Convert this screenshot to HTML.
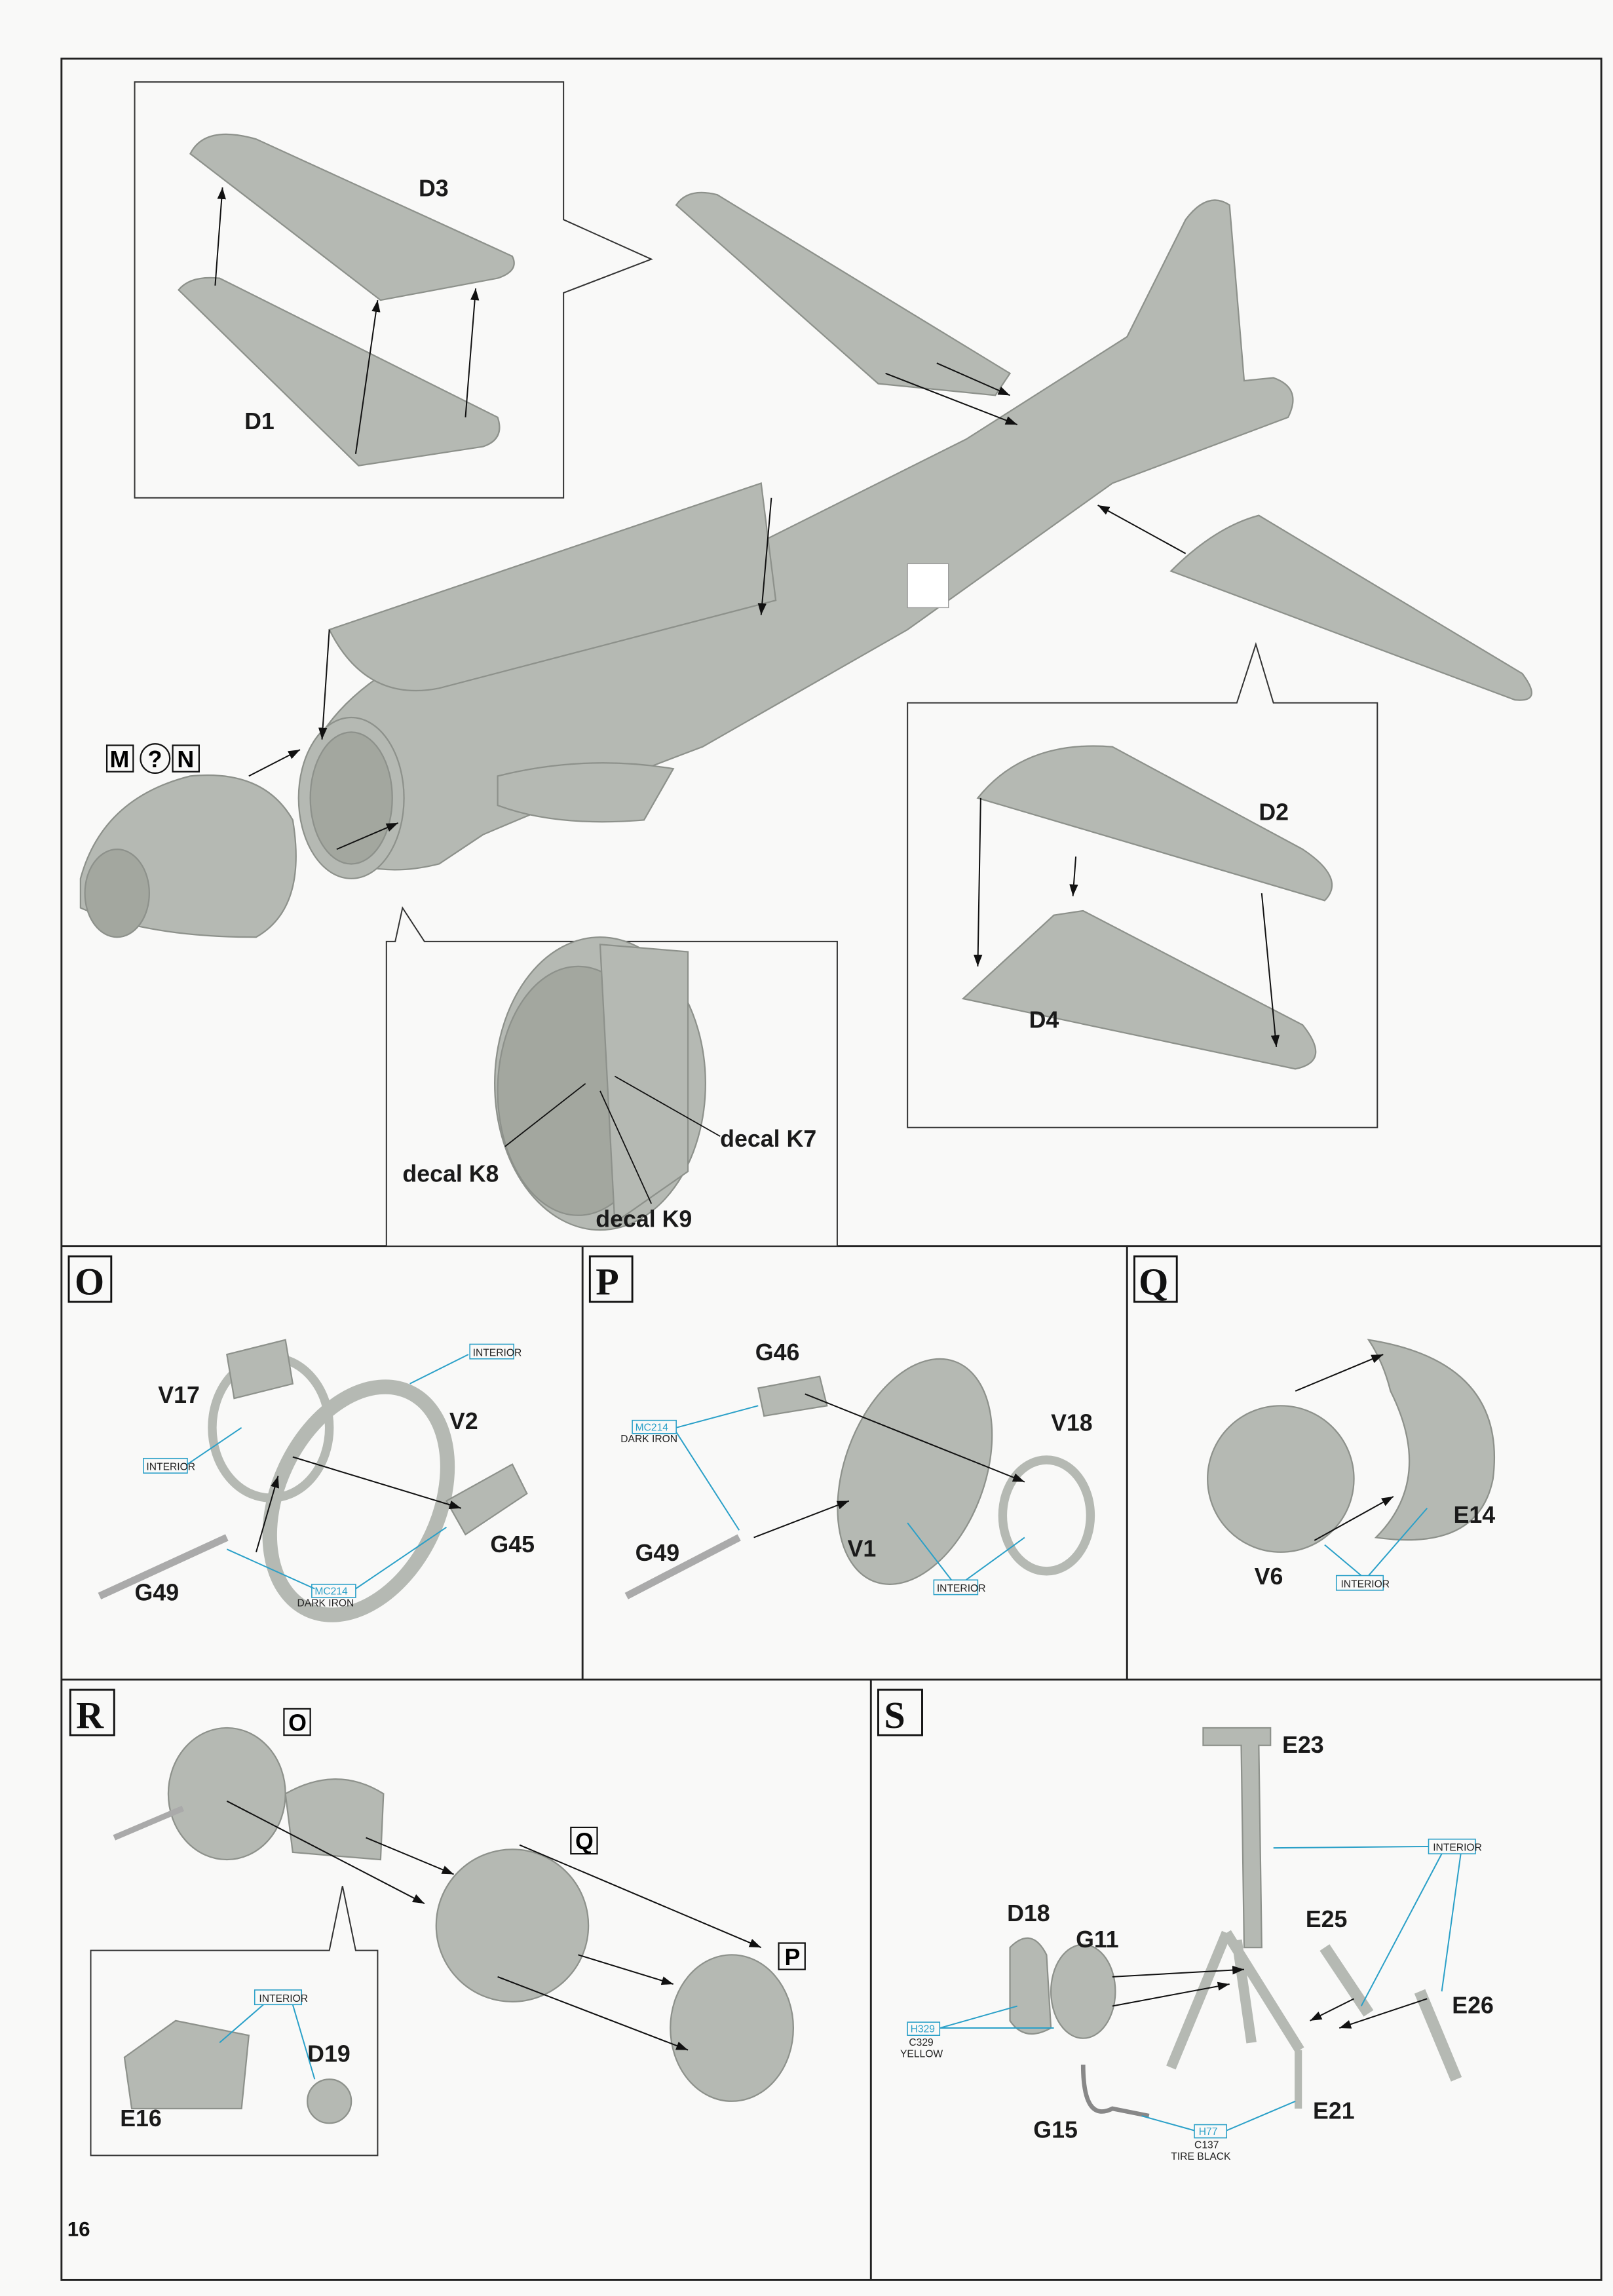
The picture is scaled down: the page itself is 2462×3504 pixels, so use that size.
<!DOCTYPE html>
<html><head><meta charset="utf-8"><style>
html,body{margin:0;padding:0;background:#f9f9f8;}
svg{display:block}
text{font-family:"Liberation Sans",sans-serif;}
.l{font-weight:bold;font-size:16px;fill:#1a1a1a}
.b{font-family:"Liberation Serif",serif;font-weight:bold;font-size:26px;fill:#111}
.p{fill:#b5b9b3;stroke:#8d918b;stroke-width:1}
.d{fill:#a3a79f;stroke:#8d918b;stroke-width:1}
.c{stroke:#2aa0c8;stroke-width:0.9;fill:none}
.ct{font-size:7px;fill:#2aa0c8}
.ck{font-size:7px;fill:#222}
.a{stroke:#111;stroke-width:0.9;fill:none;marker-end:url(#ar)}
</style></head><body>
<svg width="2462" height="3504" viewBox="0 0 1102 1568" preserveAspectRatio="none" xmlns="http://www.w3.org/2000/svg">
<defs><marker id="ar" markerWidth="8" markerHeight="6" refX="8" refY="3" orient="auto" markerUnits="userSpaceOnUse"><path d="M0,0L8,3L0,6z" fill="#111"/></marker></defs>
<rect width="1102" height="1568" fill="#f9f9f8"/>
<!-- frames -->
<g fill="none" stroke="#222" stroke-width="1.3">
<rect x="42" y="40" width="1052" height="1517"/>
<line x1="42" y1="851" x2="1094" y2="851"/>
<line x1="42" y1="1147" x2="1094" y2="1147"/>
<line x1="398" y1="851" x2="398" y2="1147"/>
<line x1="770" y1="851" x2="770" y2="1147"/>
<line x1="595" y1="1147" x2="595" y2="1557"/>
</g>
<!-- callout boxes -->
<g fill="#f9f9f8" stroke="#333" stroke-width="0.9">
<path d="M92,56 L385,56 L385,150 L445,177 L385,200 L385,340 L92,340 Z"/>
<path d="M620,480 L845,480 L858,440 L870,480 L941,480 L941,770 L620,770 Z"/>
<path d="M264,643 L270,643 L275,620 L290,643 L572,643 L572,851 L264,851 Z"/>
<path d="M62,1332 L225,1332 L234,1288 L243,1332 L258,1332 L258,1472 L62,1472 Z"/>
</g>
<!-- top big plane -->
<path class="p" d="M210,520 Q205,560 230,585 Q260,600 300,590 L330,570 Q400,540 480,510 L620,430 L760,330 L880,285 Q890,265 870,258 L850,260 L840,140 Q825,130 810,150 L770,230 L660,300 L520,370 L300,440 Q230,470 210,520 Z"/>
<path class="p" d="M225,430 L520,330 L530,410 L300,470 Q250,480 225,430 Z"/>
<path class="p" d="M462,140 Q470,128 490,133 L690,255 L680,270 L600,262 Z"/>
<path class="p" d="M800,390 Q830,360 860,352 L1040,460 Q1055,480 1035,478 Z"/>
<path class="p" d="M340,530 Q400,515 460,525 L440,560 Q380,565 340,550 Z"/>
<ellipse class="p" cx="240" cy="545" rx="36" ry="55"/>
<ellipse class="d" cx="240" cy="545" rx="28" ry="45"/>
<rect x="620" y="385" width="28" height="30" fill="#fff" stroke="#999" stroke-width="0.6"/>
<path class="p" d="M55,600 Q70,545 130,530 Q180,525 200,560 Q210,620 175,640 Q100,640 55,620 Z"/>
<ellipse class="d" cx="80" cy="610" rx="22" ry="30"/>
<!-- top left inset wings -->
<path class="p" d="M130,105 Q140,85 175,95 L350,175 Q355,185 340,190 L260,205 Z"/>
<path class="p" d="M122,198 Q130,188 150,190 L340,285 Q345,300 330,305 L245,318 Z"/>
<!-- D2/D4 inset -->
<path class="p" d="M668,545 Q700,505 760,510 L890,580 Q920,600 905,615 Z"/>
<path class="p" d="M658,682 L720,625 L740,622 L890,700 Q910,725 885,730 Z"/>
<!-- K inset cockpit -->
<ellipse class="p" cx="410" cy="740" rx="72" ry="100"/>
<ellipse class="d" cx="395" cy="745" rx="55" ry="85"/>
<path class="p" d="M410,645 L470,650 L470,800 L420,835 Z"/>
<!-- arrows top -->
<line class="a" x1="147" y1="195" x2="152" y2="128"/>
<line class="a" x1="243" y1="310" x2="258" y2="205"/>
<line class="a" x1="318" y1="285" x2="325" y2="197"/>
<line class="a" x1="225" y1="430" x2="220" y2="505"/>
<line class="a" x1="527" y1="340" x2="520" y2="420"/>
<line class="a" x1="170" y1="530" x2="205" y2="512"/>
<line class="a" x1="605" y1="255" x2="695" y2="290"/>
<line class="a" x1="640" y1="248" x2="690" y2="270"/>
<line class="a" x1="810" y1="378" x2="750" y2="345"/>
<line class="a" x1="230" y1="580" x2="272" y2="562"/>
<line class="a" x1="670" y1="545" x2="668" y2="660"/>
<line class="a" x1="735" y1="585" x2="733" y2="612"/>
<line class="a" x1="862" y1="610" x2="872" y2="715"/>
<!-- top labels -->
<text class="l" x="286" y="134">D3</text>
<text class="l" x="167" y="293">D1</text>
<text class="l" x="860" y="560">D2</text>
<text class="l" x="703" y="702">D4</text>
<text class="l" x="275" y="807">decal K8</text>
<text class="l" x="492" y="783">decal K7</text>
<text class="l" x="407" y="838">decal K9</text>
<line x1="345" y1="783" x2="400" y2="740" stroke="#111" stroke-width="0.8"/>
<line x1="492" y1="776" x2="420" y2="735" stroke="#111" stroke-width="0.8"/>
<line x1="445" y1="822" x2="410" y2="745" stroke="#111" stroke-width="0.8"/>
<g font-family="Liberation Serif,serif" font-weight="bold" font-size="16">
<rect x="73" y="509" width="18" height="18" fill="none" stroke="#111"/><text x="75" y="524">M</text>
<circle cx="106" cy="518" r="10" fill="none" stroke="#111"/><text x="101" y="524">?</text>
<rect x="118" y="509" width="18" height="18" fill="none" stroke="#111"/><text x="121" y="524">N</text>
</g>
<!-- section letters -->
<g>
<rect x="47" y="858" width="29" height="31" fill="none" stroke="#111" stroke-width="1.3"/><text class="b" x="51" y="884">O</text>
<rect x="403" y="858" width="29" height="31" fill="none" stroke="#111" stroke-width="1.3"/><text class="b" x="407" y="884">P</text>
<rect x="775" y="858" width="29" height="31" fill="none" stroke="#111" stroke-width="1.3"/><text class="b" x="778" y="884">Q</text>
<rect x="48" y="1154" width="30" height="31" fill="none" stroke="#111" stroke-width="1.3"/><text class="b" x="52" y="1180">R</text>
<rect x="600" y="1154" width="30" height="31" fill="none" stroke="#111" stroke-width="1.3"/><text class="b" x="604" y="1180">S</text>
</g>
<!-- O -->
<ellipse cx="245" cy="1025" rx="55" ry="82" fill="none" stroke="#b5b9b3" stroke-width="10" transform="rotate(25 245 1025)"/>
<ellipse cx="185" cy="975" rx="40" ry="48" fill="none" stroke="#b5b9b3" stroke-width="6"/>
<path class="p" d="M155,925 L195,915 L200,945 L160,955 Z"/>
<path class="p" d="M305,1025 L350,1000 L360,1020 L318,1048 Z"/>
<path d="M68,1090 L155,1050" stroke="#aaa" stroke-width="5"/>
<line class="a" x1="200" y1="995" x2="315" y2="1030"/>
<line class="a" x1="175" y1="1060" x2="190" y2="1008"/>
<text class="l" x="108" y="958">V17</text><text class="l" x="307" y="976">V2</text>
<text class="l" x="335" y="1060">G45</text><text class="l" x="92" y="1093">G49</text>
<rect x="321" y="918" width="30" height="10" fill="none" stroke="#2aa0c8" stroke-width="0.7"/><text class="ck" x="323" y="926">INTERIOR</text>
<rect x="98" y="996" width="30" height="10" fill="none" stroke="#2aa0c8" stroke-width="0.7"/><text class="ck" x="100" y="1004">INTERIOR</text>
<rect x="213" y="1082" width="30" height="9" fill="none" stroke="#2aa0c8" stroke-width="0.7"/><text class="ct" x="215" y="1089">MC214</text><text class="ck" x="203" y="1097">DARK IRON</text>
<path class="c" d="M320,925 L280,945 M128,1000 L165,975 M215,1085 L155,1058 M243,1085 L305,1043"/>
<!-- P -->
<ellipse cx="625" cy="1005" rx="48" ry="80" class="p" transform="rotate(20 625 1005)"/>
<ellipse cx="715" cy="1035" rx="30" ry="38" fill="none" stroke="#b5b9b3" stroke-width="6"/>
<path class="p" d="M518,948 L560,940 L565,960 L522,967 Z"/>
<path d="M428,1090 L505,1050" stroke="#aaa" stroke-width="5"/>
<line class="a" x1="550" y1="952" x2="700" y2="1012"/>
<line class="a" x1="515" y1="1050" x2="580" y2="1025"/>
<text class="l" x="516" y="929">G46</text><text class="l" x="718" y="977">V18</text>
<text class="l" x="434" y="1066">G49</text><text class="l" x="579" y="1063">V1</text>
<rect x="432" y="970" width="30" height="9" fill="none" stroke="#2aa0c8" stroke-width="0.7"/><text class="ct" x="434" y="977">MC214</text><text class="ck" x="424" y="985">DARK IRON</text>
<rect x="638" y="1079" width="30" height="10" fill="none" stroke="#2aa0c8" stroke-width="0.7"/><text class="ck" x="640" y="1087">INTERIOR</text>
<path class="c" d="M462,975 L518,960 M462,978 L505,1045 M650,1079 L620,1040 M660,1079 L700,1050"/>
<!-- Q -->
<circle class="p" cx="875" cy="1010" r="50"/>
<path class="p" d="M935,915 Q1030,930 1020,1010 Q1010,1060 940,1050 Q980,1010 950,950 Q945,930 935,915 Z"/>
<line class="a" x1="885" y1="950" x2="945" y2="925"/>
<line class="a" x1="898" y1="1052" x2="952" y2="1022"/>
<text class="l" x="993" y="1040">E14</text><text class="l" x="857" y="1082">V6</text>
<rect x="913" y="1076" width="32" height="10" fill="none" stroke="#2aa0c8" stroke-width="0.7"/><text class="ck" x="916" y="1084">INTERIOR</text>
<path class="c" d="M930,1076 L905,1055 M935,1076 L975,1030"/>
<!-- R -->
<ellipse class="p" cx="155" cy="1225" rx="40" ry="45"/>
<path class="p" d="M195,1225 Q230,1205 262,1225 L260,1270 L200,1265 Z"/>
<circle class="p" cx="350" cy="1315" r="52"/>
<ellipse class="p" cx="500" cy="1385" rx="42" ry="50"/>
<path d="M78,1255 L125,1235" stroke="#aaa" stroke-width="4"/>
<line class="a" x1="155" y1="1230" x2="290" y2="1300"/>
<line class="a" x1="250" y1="1255" x2="310" y2="1280"/>
<line class="a" x1="355" y1="1260" x2="520" y2="1330"/>
<line class="a" x1="395" y1="1335" x2="460" y2="1355"/>
<line class="a" x1="340" y1="1350" x2="470" y2="1400"/>
<rect x="194" y="1167" width="18" height="18" fill="none" stroke="#111"/><text x="197" y="1182" font-family="Liberation Serif,serif" font-weight="bold" font-size="16">O</text>
<rect x="390" y="1248" width="18" height="18" fill="none" stroke="#111"/><text x="393" y="1263" font-family="Liberation Serif,serif" font-weight="bold" font-size="16">Q</text>
<rect x="532" y="1327" width="18" height="18" fill="none" stroke="#111"/><text x="536" y="1342" font-family="Liberation Serif,serif" font-weight="bold" font-size="16">P</text>
<path class="p" d="M85,1405 L120,1380 L170,1390 L165,1440 L90,1440 Z"/>
<circle class="p" cx="225" cy="1435" r="15"/>
<text class="l" x="210" y="1408">D19</text><text class="l" x="82" y="1452">E16</text>
<rect x="174" y="1359" width="32" height="10" fill="none" stroke="#2aa0c8" stroke-width="0.7"/><text class="ck" x="177" y="1367">INTERIOR</text>
<path class="c" d="M180,1369 L150,1395 M200,1369 L215,1420"/>
<!-- S -->
<path class="p" d="M822,1180 L868,1180 L868,1192 L860,1192 L862,1330 L850,1330 L848,1192 L822,1192 Z"/>
<path d="M838,1320 L800,1412 M838,1320 L888,1400 M845,1325 L855,1395" stroke="#b5b9b3" stroke-width="7" fill="none"/>
<path d="M905,1330 L935,1375 M970,1360 L995,1420" stroke="#b5b9b3" stroke-width="8" fill="none"/>
<path class="p" d="M690,1330 Q705,1315 715,1335 L718,1385 Q700,1395 690,1380 Z"/>
<ellipse class="p" cx="740" cy="1360" rx="22" ry="32"/>
<path d="M740,1410 Q740,1450 760,1440 L785,1445" stroke="#888" stroke-width="3" fill="none"/>
<path d="M887,1400 L887,1440" stroke="#b5b9b3" stroke-width="5"/>
<line class="a" x1="760" y1="1350" x2="850" y2="1345"/>
<line class="a" x1="760" y1="1370" x2="840" y2="1355"/>
<line class="a" x1="925" y1="1365" x2="895" y2="1380"/>
<line class="a" x1="975" y1="1365" x2="915" y2="1385"/>
<text class="l" x="876" y="1197">E23</text><text class="l" x="892" y="1316">E25</text>
<text class="l" x="688" y="1312">D18</text><text class="l" x="735" y="1330">G11</text>
<text class="l" x="992" y="1375">E26</text><text class="l" x="897" y="1447">E21</text>
<text class="l" x="706" y="1460">G15</text>
<rect x="976" y="1256" width="32" height="10" fill="none" stroke="#2aa0c8" stroke-width="0.7"/><text class="ck" x="979" y="1264">INTERIOR</text>
<path class="c" d="M976,1261 L870,1262 M985,1266 L930,1370 M998,1266 L985,1360"/>
<rect x="620" y="1381" width="22" height="9" fill="none" stroke="#2aa0c8" stroke-width="0.7"/><text class="ct" x="622" y="1388">H329</text>
<text class="ck" x="621" y="1397">C329</text><text class="ck" x="615" y="1405">YELLOW</text>
<path class="c" d="M642,1385 L695,1370 M642,1385 L720,1385"/>
<rect x="816" y="1451" width="22" height="9" fill="none" stroke="#2aa0c8" stroke-width="0.7"/><text class="ct" x="819" y="1458">H77</text>
<text class="ck" x="816" y="1467">C137</text><text class="ck" x="800" y="1475">TIRE BLACK</text>
<path class="c" d="M816,1455 L780,1445 M838,1455 L885,1435"/>
<text x="46" y="1527" font-weight="bold" font-size="14" fill="#111">16</text>
</svg>
</body></html>
